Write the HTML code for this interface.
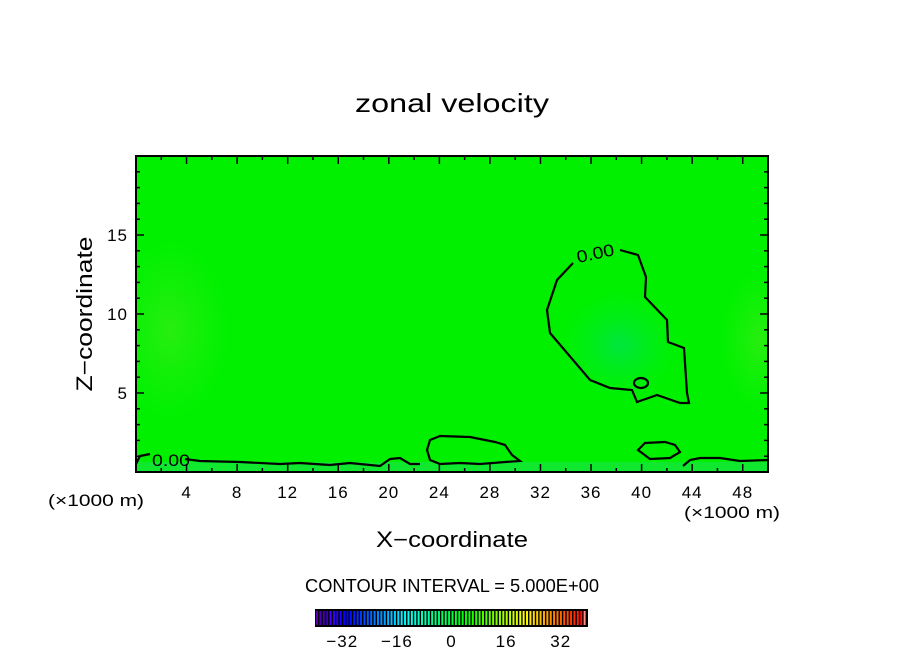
<!DOCTYPE html>
<html><head><meta charset="utf-8"><style>
body{margin:0;background:#fff;}
svg text{font-family:"Liberation Sans",sans-serif;fill:#000;}
</style></head><body>
<svg id="c" width="904" height="654" xmlns="http://www.w3.org/2000/svg">
<defs>
<radialGradient id="g1" cx="0.5" cy="0.5" r="0.5"><stop offset="0" stop-color="#00e640"/><stop offset="1" stop-color="#00f020" stop-opacity="0"/></radialGradient>
<radialGradient id="g2" cx="0.5" cy="0.5" r="0.5"><stop offset="0" stop-color="#28ee10"/><stop offset="1" stop-color="#20f010" stop-opacity="0"/></radialGradient>
<clipPath id="pc"><rect x="136" y="156" width="632" height="316"/></clipPath>
</defs>
<text x="452" y="112" font-size="26" text-anchor="middle" textLength="194" lengthAdjust="spacingAndGlyphs">zonal velocity</text>
<g id="plot">
<g clip-path="url(#pc)">
<rect x="136" y="156" width="632" height="316" fill="#00f000"/>
<ellipse cx="170" cy="330" rx="60" ry="90" fill="url(#g2)"/>
<ellipse cx="760" cy="340" rx="40" ry="70" fill="url(#g2)"/>
<ellipse cx="620" cy="345" rx="60" ry="55" fill="url(#g1)"/>
<rect x="136" y="462" width="632" height="10" fill="#10e830"/>
</g>
<g fill="none" stroke="#000" stroke-width="2.2">
<path d="M573,263 L557,280 L547,310 L550,333 L573,360 L590,380 L610,388 L632,390 L637,402 L657,395 L680,403 L689,403 L687,393 L684,348 L668,342 L667,320 L645,297 L646,277 L638,255 L620,250"/>
<ellipse cx="641" cy="383" rx="7" ry="5"/>
<path d="M430,440 L440,436 L470,437 L495,442 L505,445 L512,455 L520,461 L505,462 L480,464 L460,463 L440,464 L430,460 L427,450 Z"/>
<path d="M638,450 L645,443 L665,442 L675,445 L680,452 L670,458 L650,459 Z"/>
<path d="M136,464 L140,456 L150,454 M185,459 L200,461 L240,462 L280,464 L300,463 L330,465 L350,463 L380,466 L390,459 L400,458 L410,464 L420,464"/>
<path d="M683,466 L690,460 L700,458 L720,458 L740,461 L768,460"/>
</g>
<text x="152" y="466" font-size="17" textLength="38" lengthAdjust="spacingAndGlyphs">0.00</text>
<text x="578" y="263" font-size="17" textLength="38" lengthAdjust="spacingAndGlyphs" transform="rotate(-12 578 263)">0.00</text>
<rect x="136" y="156" width="632" height="316" fill="none" stroke="#000" stroke-width="2"/>
</g>
<g id="axes"></g>
<text x="452" y="547" font-size="22" text-anchor="middle" textLength="152" lengthAdjust="spacingAndGlyphs">X−coordinate</text>
<text x="92" y="314" font-size="22" text-anchor="middle" textLength="155" lengthAdjust="spacingAndGlyphs" transform="rotate(-90 92 314)">Z−coordinate</text>
<text x="48" y="506" font-size="17" textLength="96" lengthAdjust="spacingAndGlyphs">(×1000 m)</text>
<text x="684" y="518" font-size="17" textLength="96" lengthAdjust="spacingAndGlyphs">(×1000 m)</text>
<text x="305" y="592" font-size="18" textLength="294" lengthAdjust="spacingAndGlyphs">CONTOUR INTERVAL = 5.000E+00</text>
<g id="cbar"></g>
</svg>
<script>
const xTicks=[4,8,12,16,20,24,28,32,36,40,44,48];
const yTicks=[5,10,15];
const cbTicks=[-32,-16,0,16,32];
const xDomain=[0,50], yDomain=[0,20], cbDomain=[-40,40];
const NS="http://www.w3.org/2000/svg";
const X=v=>136+(v-xDomain[0])/(xDomain[1]-xDomain[0])*632;
const Y=v=>472-(v-yDomain[0])/(yDomain[1]-yDomain[0])*316;
const C=v=>315+(v-cbDomain[0])/(cbDomain[1]-cbDomain[0])*273;
function mk(t,a,p){const e=document.createElementNS(NS,t);for(const k in a)e.setAttribute(k,a[k]);p.appendChild(e);return e;}
const ax=document.getElementById('axes');
for(let v=2;v<50;v+=2){const l=v%4===0?8:4;
 const t=mk('line',{x1:X(v),x2:X(v),y1:472,y2:472-l,stroke:'#000','stroke-width':1.5},ax);
 
 
 const t2=mk('line',{x1:X(v),x2:X(v),y1:156,y2:156+l,stroke:'#000','stroke-width':1.5},ax);
 
 }
for(let v=1;v<20;v++){const l=v%5===0?8:4;
 const t=mk('line',{x1:136,x2:136+l,y1:Y(v),y2:Y(v),stroke:'#000','stroke-width':1.5},ax);
 
 
 const t2=mk('line',{x1:768,x2:768-l,y1:Y(v),y2:Y(v),stroke:'#000','stroke-width':1.5},ax);
 
 }
xTicks.forEach(v=>{const t=mk('text',{x:X(v),y:498,'font-size':17,'text-anchor':'middle','letter-spacing':1},ax);t.textContent=v;
 
 });
yTicks.forEach(v=>{const t=mk('text',{x:128,y:Y(v)+6,'font-size':17,'text-anchor':'end','letter-spacing':1},ax);t.textContent=v;
 
 });
const cb=document.getElementById('cbar');
mk('rect',{x:315,y:609,width:273,height:18,fill:'#000'},cb);
const n=80;
for(let i=0;i<n;i++){const f=i/(n-1);let col;
 if(i===n-1)col='#ff9090';else col=`hsl(${270-f*270},100%,${f<0.05?35:50}%)`;
 const s=mk('rect',{x:316+i*271/n,y:611,width:2,height:14,fill:col},cb);
 
 }
cbTicks.forEach(v=>{const t=mk('text',{x:C(v),y:647,'font-size':17,'text-anchor':'middle','letter-spacing':1},cb);t.textContent=v<0?'−'+(-v):v;
 
 });
</script>
</body></html>
